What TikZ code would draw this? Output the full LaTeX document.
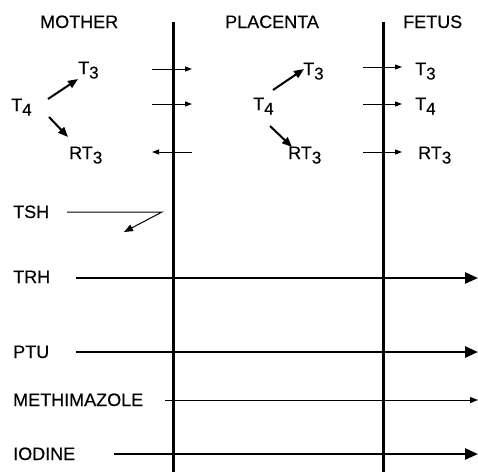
\documentclass[tikz,border=0pt]{standalone}
\usepackage{fontspec}
\setmainfont{Liberation Sans}[FakeBold=0.35]
\usetikzlibrary{arrows.meta}
\newcommand{\sbs}[1]{\raisebox{-4.5pt}{\fontsize{17}{18}\selectfont #1}}
\tikzset{
  lbl/.style={anchor=base west, inner sep=0pt, font=\fontsize{18}{20}\selectfont},
  barrier/.style={line width=3pt},
  bigarrow/.style={line width=2.6pt, -{Triangle[length=13pt,width=11pt]}},
  thinarrow/.style={line width=1pt, -{Triangle[length=7pt,width=5pt]}},
  convarrow/.style={line width=2pt, -{Triangle[length=10pt,width=8pt]}},
  tsharrow/.style={line width=1pt, -{Triangle[length=9pt,width=7pt]}},
  methline/.style={line width=1pt, -{Triangle[length=8pt,width=6pt]}},
}
\begin{document}
\begin{tikzpicture}[x=1pt,y=-1pt]
\useasboundingbox (0,0) rectangle (478,472);
% headers
\node[lbl] (mother) at (40,28) {MOTHER};
\node[lbl] (placenta) at (225,28) {PLACENTA};
\node[lbl] (fetus) at (403,28) {FETUS};
% barriers
\coordinate (b1top) at (173,22); \coordinate (b1bot) at (173,472);
\coordinate (b2top) at (383,22); \coordinate (b2bot) at (383,472);
\draw[barrier] (b1top) -- (b1bot);
\draw[barrier] (b2top) -- (b2bot);
% mother
\node[lbl] (mT3) at (78,74) {T\sbs{3}};
\node[lbl] (mT4) at (11,111) {T\sbs{4}};
\node[lbl] (mRT3) at (69,159) {RT\sbs{3}};
\coordinate (mA1s) at (48,99); \coordinate (mA1e) at (78,79);
\coordinate (mA2s) at (49,117); \coordinate (mA2e) at (68,137);
\draw[convarrow] (mA1s) -- (mA1e);
\draw[convarrow] (mA2s) -- (mA2e);
% placenta
\node[lbl] (pT3) at (303,75) {T\sbs{3}};
\node[lbl] (pT4) at (253,110) {T\sbs{4}};
\node[lbl] (pRT3) at (288,159) {RT\sbs{3}};
\coordinate (pA1s) at (273,90); \coordinate (pA1e) at (304,69);
\coordinate (pA2s) at (270,126); \coordinate (pA2e) at (292,147);
\draw[convarrow] (pA1s) -- (pA1e);
\draw[convarrow] (pA2s) -- (pA2e);
% fetus
\node[lbl] (fT3) at (415,75) {T\sbs{3}};
\node[lbl] (fT4) at (415,110) {T\sbs{4}};
\node[lbl] (fRT3) at (418,159) {RT\sbs{3}};
% transfer arrows across maternal side of placenta
\coordinate (x1a) at (152,69); \coordinate (x1b) at (192,69);
\coordinate (x2a) at (152,104); \coordinate (x2b) at (192,104);
\coordinate (x3a) at (192,152); \coordinate (x3b) at (152,152);
\draw[thinarrow] (x1a) -- (x1b);
\draw[thinarrow] (x2a) -- (x2b);
\draw[thinarrow] (x3a) -- (x3b);
% transfer arrows across fetal side
\coordinate (y1a) at (363,67); \coordinate (y1b) at (402,67);
\coordinate (y2a) at (363,104); \coordinate (y2b) at (402,104);
\coordinate (y3a) at (363,152); \coordinate (y3b) at (402,152);
\draw[thinarrow] (y1a) -- (y1b);
\draw[thinarrow] (y2a) -- (y2b);
\draw[thinarrow] (y3a) -- (y3b);
% TSH
\node[lbl] (tsh) at (13,218) {TSH};
\coordinate (tshS) at (67,212); \coordinate (tshM) at (162,212); \coordinate (tshE) at (124,232);
\draw[tsharrow] (tshS) -- (tshM) -- (tshE);
% TRH
\node[lbl] (trh) at (13,283) {TRH};
\coordinate (trhS) at (76,278); \coordinate (trhE) at (478,278);
\draw[bigarrow] (trhS) -- (trhE);
% PTU
\node[lbl] (ptu) at (13,358) {PTU};
\coordinate (ptuS) at (76,352); \coordinate (ptuE) at (478,352);
\draw[bigarrow] (ptuS) -- (ptuE);
% METHIMAZOLE
\node[lbl] (meth) at (13,406) {METHIMAZOLE};
\coordinate (methS) at (165,400); \coordinate (methE) at (478,400);
\draw[methline] (methS) -- (methE);
% IODINE
\node[lbl] (iod) at (13,460) {IODINE};
\coordinate (iodS) at (114,454); \coordinate (iodE) at (478,454);
\draw[bigarrow] (iodS) -- (iodE);
\end{tikzpicture}
\end{document}
